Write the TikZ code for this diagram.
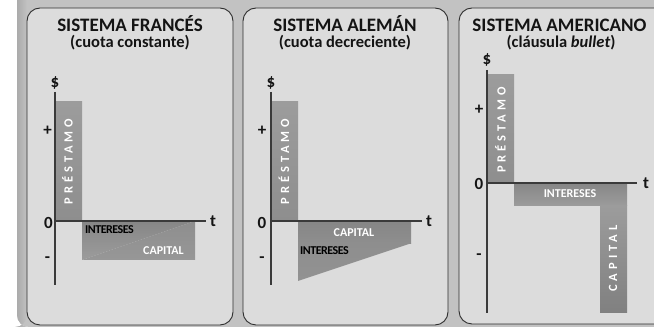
\documentclass[tikz,border=0pt]{standalone}
\usepackage{fontspec}
\setmainfont{Carlito}
\definecolor{bgcol}{HTML}{C2C2C2}
\definecolor{panelcol}{HTML}{DCDCDC}
\definecolor{edgecol}{HTML}{2E2E2E}
\definecolor{axiscol}{HTML}{3A3A3A}
\definecolor{barA}{HTML}{8E8E8E}
\definecolor{barB}{HTML}{9C9C9C}
\definecolor{barC}{HTML}{808080}
\definecolor{inkcol}{HTML}{141414}
\begin{document}
\begin{tikzpicture}[x=1pt,y=-1pt,
  panel/.style={draw=edgecol,fill=panelcol,line width=0.9pt,rounded corners=13pt},
  ttl/.style={font=\bfseries\fontsize{19}{20}\selectfont,text=inkcol,inner sep=0pt,anchor=base},
  subttl/.style={font=\bfseries\fontsize{16.5}{18}\selectfont,text=inkcol,inner sep=0pt,anchor=base},
  axlab/.style={font=\bfseries\fontsize{17}{18}\selectfont,text=inkcol,inner sep=0pt},
  axisline/.style={draw=axiscol,line width=1.2pt},
  vlab/.style={font=\bfseries\fontsize{12.5}{13}\selectfont\addfontfeature{LetterSpace=32},text=white,rotate=90,inner sep=0pt},
  hlabw/.style={font=\bfseries\fontsize{12}{13}\selectfont,text=white,inner sep=0pt},
  hlabk/.style={font=\bfseries\fontsize{12}{13}\selectfont\addfontfeature{LetterSpace=-4},text=black,inner sep=0pt},
  barfill/.style={top color=barB,bottom color=barA},
]
\useasboundingbox (0,0) rectangle (654,328);
\clip (0,0) rectangle (654,328);
% background
\fill[bgcol,rounded corners=12pt] (17,-20) rectangle (690,327);
\shade[left color=black!33,right color=bgcol,rounded corners=12pt] (17,-20) rectangle (27,327);

% panels
\draw[panel] (27,8) rectangle (233,325);
\draw[panel] (243,8) rectangle (448,325);
\draw[panel] (459,8) rectangle (690,324);

% ---------------- Panel 1: Francés ----------------
\node[ttl] (t1) at (130,31.5) {SISTEMA FRANCÉS};
\node[subttl] (s1) at (130,48) {(cuota constante)};
\shade[barfill] (55,102) rectangle (82,221);
\shade[top color=barC!95,bottom color=barB] (82,221) -- (195,221) -- (82,260) -- cycle;
\shade[top color=barA,bottom color=barB!105] (195,221) -- (195,260) -- (82,260) -- cycle;
\coordinate (a1top) at (55,92);
\coordinate (a1bot) at (55,285);
\coordinate (a1o) at (55,221);
\coordinate (a1end) at (206,221);
\draw[axisline] (a1top) -- (a1bot);
\draw[axisline] (a1o) -- (a1end);
\node[axlab] (d1) at (55,83) {\$};
\node[axlab] (p1) at (47.5,131) {+};
\node[axlab] (z1) at (48.5,223) {0};
\node[axlab] (m1) at (47.5,260) {-};
\node[axlab] (tt1) at (213,221) {t};
\node[vlab] (pr1) at (67.5,161.5) {PRÉSTAMO};
\node[hlabk] (i1) at (109.5,229.5) {INTERESES};
\node[hlabw] (c1) at (163.5,250.5) {CAPITAL};

% ---------------- Panel 2: Alemán ----------------
\node[ttl] (t2) at (345,31.5) {SISTEMA ALEMÁN};
\node[subttl] (s2) at (345,48) {(cuota decreciente)};
\shade[barfill] (271,102) rectangle (298,221);
\shade[top color=barC!95,bottom color=barA] (298,221) rectangle (411,243.3);
\shade[top color=barA,bottom color=barB!110] (298,243.3) -- (411,243.3) -- (298,281) -- cycle;
\coordinate (a2top) at (271,92);
\coordinate (a2bot) at (271,285);
\coordinate (a2o) at (271,221);
\coordinate (a2end) at (422,221);
\draw[axisline] (a2top) -- (a2bot);
\draw[axisline] (a2o) -- (a2end);
\node[axlab] (d2) at (271,83) {\$};
\node[axlab] (p2) at (262,131) {+};
\node[axlab] (z2) at (262,223) {0};
\node[axlab] (m2) at (262,260) {-};
\node[axlab] (tt2) at (429,221) {t};
\node[vlab] (pr2) at (284,161.5) {PRÉSTAMO};
\node[hlabw] (c2) at (354,232.5) {CAPITAL};
\node[hlabk] (i2) at (324.5,250.5) {INTERESES};

% ---------------- Panel 3: Americano ----------------
\node[ttl] (t3) at (559.5,31.5) {SISTEMA AMERICANO};
\node[subttl] (s3) at (561,48) {(cláusula \textit{bullet})};
\shade[barfill] (487,75) rectangle (514,183);
\shade[top color=barC!95,bottom color=barB] (514,183) rectangle (627,206);
\shade[top color=barB,bottom color=barC] (600,206) rectangle (627,313);
\coordinate (a3top) at (487,70);
\coordinate (a3bot) at (487,313);
\coordinate (a3o) at (487,183);
\coordinate (a3end) at (637,183);
\draw[axisline] (a3top) -- (a3bot);
\draw[axisline] (a3o) -- (a3end);
\node[axlab] (d3) at (487,60) {\$};
\node[axlab] (p3) at (479,110) {+};
\node[axlab] (z3) at (479,184) {0};
\node[axlab] (m3) at (479,257) {-};
\node[axlab] (tt3) at (646,183) {t};
\node[vlab] (pr3) at (500.5,130) {PRÉSTAMO};
\node[hlabw] (i3) at (570,194) {INTERESES};
\node[vlab] (c3) at (613,258.5) {CAPITAL};
\end{tikzpicture}
\end{document}
